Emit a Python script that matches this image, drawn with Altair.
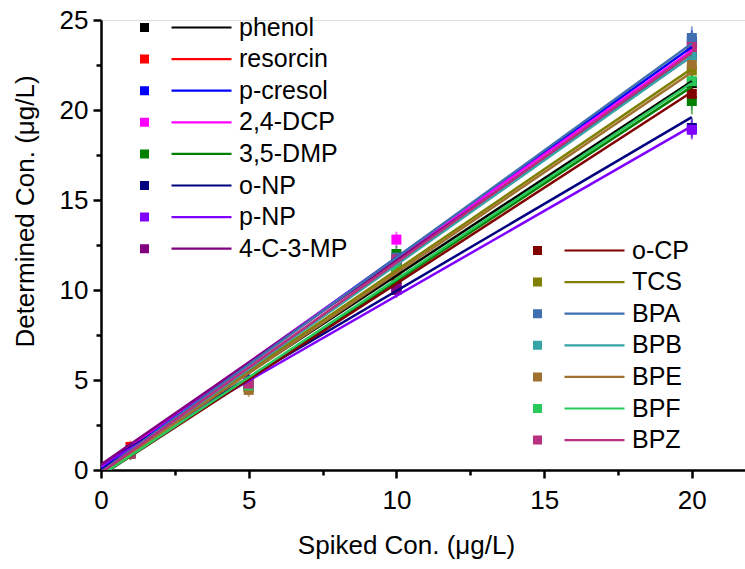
import altair as alt
import pandas as pd

# ---------------- data ----------------
names = ["phenol", "resorcin", "p-cresol", "2,4-DCP", "3,5-DMP", "o-NP", "p-NP", "4-C-3-MP",
         "o-CP", "TCS", "BPA", "BPB", "BPE", "BPF", "BPZ"]
colors = ["#000000", "#FF0000", "#0000FF", "#FF00FF", "#008000", "#000080", "#8000FF", "#800080",
          "#800000", "#808000", "#3F6FAF", "#36A5A5", "#A0702E", "#28C85A", "#B8307E"]
groups = ["A"] * 8 + ["B"] * 7

spiked = [1, 5, 10, 20]
det_1 = [1.00, 1.28, 1.05, 0.95, 0.90, 1.10, 1.00, 1.00, 0.95, 1.05, 1.00, 1.10, 0.90, 0.95, 0.92]
det_5 = [4.90, 4.80, 5.00, 4.90, 4.70, 4.80, 4.70, 4.95, 4.60, 4.60, 4.90, 4.80, 4.45, 4.70, 4.80]
det_10 = [11.2, 11.5, 11.6, 12.8, 12.0, 10.2, 10.1, 10.0, 10.6, 11.0, 11.8, 11.4, 10.9, 11.3, 11.7]
det_20 = [21.5, 23.3, 23.8, 23.1, 20.5, 19.0, 18.9, 23.0, 20.9, 22.2, 24.0, 23.0, 22.5, 21.6, 23.5]
sd_1 = [0.10] * 15
sd_5 = [0.15] * 15
sd_10 = [0.20] * 15
sd_20 = [0.30, 0.40, 0.40, 0.40, 0.50, 0.30, 0.30, 0.30, 0.40, 0.30, 0.40, 0.30, 0.40, 0.40, 0.30]

fit_x = [0, 20]
fit_0 = [0.00, -0.20, 0.10, 0.20, -0.30, 0.30, 0.25, 0.30, -0.30, -0.10, -0.10, -0.20, -0.20, -0.30, -0.15]
fit_20 = [21.6, 23.2, 23.5, 23.3, 21.3, 19.6, 19.1, 23.0, 21.0, 22.3, 23.7, 23.0, 22.1, 21.5, 23.2]

x_ticks = [0, 2.5, 5, 7.5, 10, 12.5, 15, 17.5, 20]
y_ticks = [0, 2.5, 5, 7.5, 10, 12.5, 15, 17.5, 20, 22.5, 25]

# ---------------- tables ----------------
rows = []
for i, n in enumerate(names):
    for x, vals, sds in zip(spiked, [det_1, det_5, det_10, det_20], [sd_1, sd_5, sd_10, sd_20]):
        rows.append(dict(compound=n, group=groups[i], spiked=x, det=vals[i],
                         lo=vals[i] - sds[i], hi=vals[i] + sds[i]))
pts = pd.DataFrame(rows)

frows = []
for i, n in enumerate(names):
    frows.append(dict(compound=n, group=groups[i], spiked=fit_x[0], det=fit_0[i]))
    frows.append(dict(compound=n, group=groups[i], spiked=fit_x[1], det=fit_20[i]))
fits = pd.DataFrame(frows)

names_a = [n for n, g in zip(names, groups) if g == "A"]
colors_a = [c for c, g in zip(colors, groups) if g == "A"]
names_b = [n for n, g in zip(names, groups) if g == "B"]
colors_b = [c for c, g in zip(colors, groups) if g == "B"]

FONT = "Liberation Sans"
SYMBOL = "M-0.9,-0.9H0.9V0.9H-0.9Z M5.4,-0.22H17.4V0.22H5.4Z"

xscale = alt.Scale(domain=[0, 21.8], nice=False, zero=False)
yscale = alt.Scale(domain=[0, 25], nice=False, zero=False)
sscale = alt.Scale(domain=names, range=colors)

cond_tick = {"condition": {"test": "datum.value % 5 === 0", "value": 8}, "value": 5}
cond_label = "datum.value % 5 === 0 ? datum.label : ''"

x_axis = alt.Axis(values=x_ticks, labelExpr=cond_label, tickSize=cond_tick, orient="bottom",
                  grid=False, domainColor="black", domainWidth=2.5, tickColor="black", tickWidth=2.5,
                  labelFont=FONT, labelFontSize=26, labelColor="black", labelPadding=9,
                  labelFlush=False, labelOverlap=False,
                  title="Spiked Con. (μg/L)", titleFont=FONT, titleFontSize=26, titleFontWeight="normal",
                  titleColor="black", titleX=305, titleY=75, titleAlign="center", titleBaseline="middle")
y_axis = alt.Axis(values=y_ticks, labelExpr=cond_label, tickSize=cond_tick, orient="left",
                  grid=False, domainColor="black", domainWidth=2.5, tickColor="black", tickWidth=2.5,
                  labelFont=FONT, labelFontSize=26, labelColor="black", labelPadding=5,
                  labelFlush=False, labelOverlap=False,
                  title="Determined Con. (μg/L)", titleFont=FONT, titleFontSize=26, titleFontWeight="normal",
                  titleColor="black", titleX=-76, titleY=191, titleAlign="center", titleBaseline="middle")

X = alt.X("spiked:Q", scale=xscale, axis=x_axis)
S = alt.Stroke("compound:N", scale=sscale, legend=None)


def legend(lx, ly):
    return alt.Legend(orient="none", legendX=lx, legendY=ly, title=None, symbolType=SYMBOL,
                      symbolSize=100, symbolStrokeWidth=0, labelFont=FONT, labelFontSize=25,
                      labelColor="black", labelOffset=82, rowPadding=5.6, labelLimit=300)


err = alt.Chart(pts).mark_rule(strokeWidth=1, opacity=0.6).encode(
    x=X, y=alt.Y("lo:Q", scale=yscale, axis=y_axis), y2="hi:Q", stroke=S)
cap_lo = alt.Chart(pts).mark_tick(thickness=1, size=8, opacity=0.6).encode(
    x=X, y=alt.Y("lo:Q", scale=yscale, axis=y_axis), stroke=S)
cap_hi = alt.Chart(pts).mark_tick(thickness=1, size=8, opacity=0.6).encode(
    x=X, y=alt.Y("hi:Q", scale=yscale, axis=y_axis), stroke=S)

point_a = alt.Chart(pts[pts.group == "A"]).mark_square(size=100, opacity=1).encode(
    x=X, y=alt.Y("det:Q", scale=yscale, axis=y_axis),
    color=alt.Color("compound:N", scale=alt.Scale(domain=names_a, range=colors_a), legend=legend(31, -5)))
point_b = alt.Chart(pts[pts.group == "B"]).mark_square(size=100, opacity=1).encode(
    x=X, y=alt.Y("det:Q", scale=yscale, axis=y_axis),
    fill=alt.Fill("compound:N", scale=alt.Scale(domain=names_b, range=colors_b), legend=legend(424, 218)))

line = alt.Chart(fits).mark_line(strokeWidth=2.5, clip=True).encode(
    x=X, y=alt.Y("det:Q", scale=yscale, axis=y_axis), stroke=S, detail="compound:N")

chart = alt.layer(err, cap_lo, cap_hi, point_a, point_b, line).properties(
    width=644, height=450,
    autosize=alt.AutoSizeParams(type="none"),
    padding={"left": 101, "top": 20, "right": 0, "bottom": 99},
).configure_view(stroke=None).configure(background="white")

chart.save("out.html", embed_options={"renderer": "svg", "actions": False})
